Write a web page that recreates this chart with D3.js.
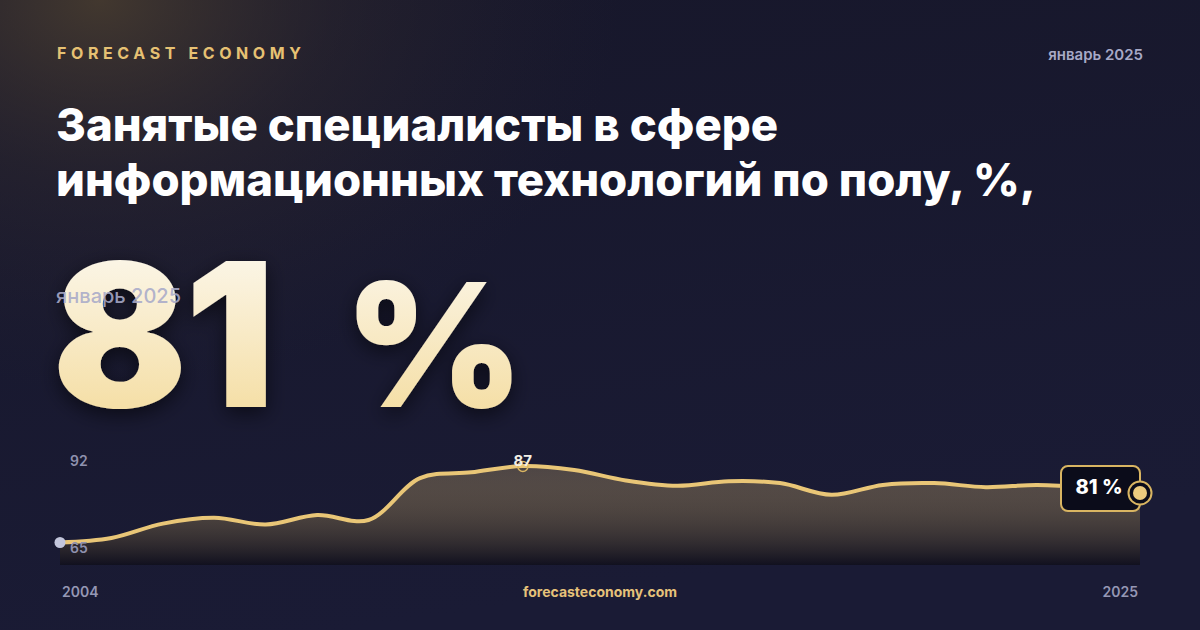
<!DOCTYPE html>
<html>
<head>
<meta charset="utf-8">
<script src="https://cdn.jsdelivr.net/npm/d3@7"></script>
<style>
  html, body { margin: 0; padding: 0; background: #15162b; }
  svg { display: block; font-family: Inter, "Noto Sans", sans-serif; }
</style>
</head>
<body>
<script>
var width = 1200, height = 630;

// data (share, %)
var years = [2004, 2005, 2006, 2007, 2008, 2009, 2010, 2011, 2012, 2013, 2014,
             2015, 2016, 2017, 2018, 2019, 2020, 2021, 2022, 2023, 2024, 2025];
var values = [70, 71, 74.2, 75.5, 74, 76.1, 75, 84.3, 85.6, 87, 86.1,
              83.8, 82.6, 83.6, 83.2, 80.6, 82.8, 83.2, 82.3, 82.8, 82.2, 81];
var yTicks = [92, 65];
var titleLines = ["Занятые специалисты в сфере", "информационных технологий по полу, %,"];
var periodLabel = "январь 2025";

var data = years.map(function(y, i) { return {year: y, value: values[i]}; });
var last = data[data.length - 1];
var peak = data.reduce(function(a, b) { return b.value > a.value ? b : a; });

var svg = d3.select("body").append("svg")
    .attr("width", width)
    .attr("height", height);

var defs = svg.append("defs");

var bg = defs.append("linearGradient").attr("id", "bg")
    .attr("x1", 0).attr("y1", 0).attr("x2", 0.3).attr("y2", 1);
bg.append("stop").attr("offset", 0).attr("stop-color", "#17172a");
bg.append("stop").attr("offset", 1).attr("stop-color", "#1a1b35");

var glow = defs.append("radialGradient").attr("id", "glow")
    .attr("gradientUnits", "userSpaceOnUse")
    .attr("cx", 100).attr("cy", 0).attr("r", 520)
    .attr("gradientTransform", "translate(100,0) scale(1,0.75) translate(-100,0)");
glow.append("stop").attr("offset", 0).attr("stop-color", "#4d4030").attr("stop-opacity", 0.8);
glow.append("stop").attr("offset", 0.45).attr("stop-color", "#3a3130").attr("stop-opacity", 0.35);
glow.append("stop").attr("offset", 1).attr("stop-color", "#2a2530").attr("stop-opacity", 0);

var big = defs.append("linearGradient").attr("id", "big")
    .attr("x1", 0).attr("y1", 0).attr("x2", 0).attr("y2", 1);
big.append("stop").attr("offset", 0).attr("stop-color", "#fdfcf9");
big.append("stop").attr("offset", 1).attr("stop-color", "#f3d893");

var areaGrad = defs.append("linearGradient").attr("id", "areaGrad")
    .attr("x1", 0).attr("y1", 0).attr("x2", 0).attr("y2", 1);
areaGrad.append("stop").attr("offset", 0).attr("stop-color", "#e8c57a").attr("stop-opacity", 0.25);
areaGrad.append("stop").attr("offset", 1).attr("stop-color", "#0e0d18").attr("stop-opacity", 0.75);

var shadow = defs.append("filter").attr("id", "shadow")
    .attr("x", "-20%").attr("y", "-20%").attr("width", "140%").attr("height", "140%");
shadow.append("feDropShadow").attr("dx", 0).attr("dy", 6).attr("stdDeviation", 10)
    .attr("flood-color", "#000").attr("flood-opacity", 0.55);

svg.append("rect").attr("width", width).attr("height", height).attr("fill", "url(#bg)");
svg.append("rect").attr("width", width).attr("height", height).attr("fill", "url(#glow)");

// header
svg.append("text")
    .attr("x", 57).attr("y", 59)
    .attr("fill", "#e6c173")
    .attr("font-size", 16).attr("font-weight", 700)
    .attr("letter-spacing", 4.6)
    .text("FORECAST ECONOMY");

svg.append("text")
    .attr("x", 1143).attr("y", 60)
    .attr("text-anchor", "end")
    .attr("fill", "#a7a9c6")
    .attr("font-size", 15).attr("font-weight", 600)
    .text(periodLabel);

// title
svg.selectAll(".title")
    .data(titleLines)
  .enter().append("text")
    .attr("class", "title")
    .attr("x", 56)
    .attr("y", function(d, i) { return 141 + i * 55; })
    .attr("fill", "#ffffff")
    .attr("font-size", 45.5).attr("font-weight", 800)
    .text(function(d) { return d; });

// big number
var bigText = svg.append("text")
    .attr("x", 52).attr("y", 407)
    .attr("fill", "url(#big)")
    .attr("filter", "url(#shadow)")
    .attr("font-size", 200).attr("font-weight", 900)
    .attr("letter-spacing", -3);
bigText.append("tspan").text(d3.format(".0f")(last.value));
bigText.append("tspan").attr("dx", 72).attr("font-size", 172).text("%");

svg.append("text")
    .attr("x", 56).attr("y", 303)
    .attr("fill", "#a9abc9").attr("fill-opacity", 0.9)
    .attr("font-size", 20).attr("font-weight", 500)
    .text(periodLabel);

// chart
var x = d3.scaleLinear()
    .domain(d3.extent(years))
    .range([60, 1140]);

var y = d3.scaleLinear()
    .domain([yTicks[1], yTicks[0]])
    .range([565, 443.5]);

var curve = d3.curveCatmullRom.alpha(0.5);

var area = d3.area()
    .x(function(d) { return x(d.year); })
    .y0(y(yTicks[1]))
    .y1(function(d) { return y(d.value); })
    .curve(curve);

var line = d3.line()
    .x(function(d) { return x(d.year); })
    .y(function(d) { return y(d.value); })
    .curve(curve);

svg.append("path")
    .datum(data)
    .attr("d", area)
    .attr("fill", "url(#areaGrad)");

svg.append("path")
    .datum(data)
    .attr("d", line)
    .attr("fill", "none")
    .attr("stroke", "#e9c677")
    .attr("stroke-width", 4)
    .attr("stroke-linejoin", "round");

// y labels
svg.selectAll(".ytick")
    .data(yTicks)
  .enter().append("text")
    .attr("class", "ytick")
    .attr("x", 70)
    .attr("y", function(d, i) { return i === 0 ? y(d) + 22.5 : y(d) - 12; })
    .attr("fill", "#8f91ae")
    .attr("font-size", 14).attr("font-weight", 600)
    .text(function(d) { return d; });

// x labels
svg.append("text")
    .attr("x", x(years[0]) + 2).attr("y", 597)
    .attr("fill", "#9597b4")
    .attr("font-size", 14).attr("font-weight", 600)
    .text(years[0]);

svg.append("text")
    .attr("x", x(years[years.length - 1]) - 2).attr("y", 597)
    .attr("text-anchor", "end")
    .attr("fill", "#9597b4")
    .attr("font-size", 14).attr("font-weight", 600)
    .text(years[years.length - 1]);

svg.append("text")
    .attr("x", 600).attr("y", 597)
    .attr("text-anchor", "middle")
    .attr("fill", "#e6c27a")
    .attr("font-size", 14).attr("font-weight", 700)
    .text("forecasteconomy.com");

// start dot
svg.append("circle")
    .attr("cx", x(data[0].year)).attr("cy", y(data[0].value))
    .attr("r", 5.5)
    .attr("fill", "#c3c6dc");

// peak marker
svg.append("circle")
    .attr("cx", x(peak.year)).attr("cy", y(peak.value) + 0.5)
    .attr("r", 5)
    .attr("fill", "none")
    .attr("stroke", "#d9b562")
    .attr("stroke-width", 1.5);

svg.append("text")
    .attr("x", x(peak.year)).attr("y", y(peak.value) - 0.5)
    .attr("text-anchor", "middle")
    .attr("fill", "#f3efe6")
    .attr("font-size", 15).attr("font-weight", 700)
    .text(d3.format(".0f")(peak.value));

// last value badge
var lx = x(last.year), ly = y(last.value);

svg.append("rect")
    .attr("x", lx - 79).attr("y", ly - 27)
    .attr("width", 79).attr("height", 45)
    .attr("rx", 7)
    .attr("fill", "#0b0c1a")
    .attr("stroke", "#d9b562")
    .attr("stroke-width", 2);

svg.append("text")
    .attr("x", lx - 41).attr("y", ly + 1)
    .attr("text-anchor", "middle")
    .attr("fill", "#ffffff")
    .attr("font-size", 20).attr("font-weight", 800)
    .text(d3.format(".0f")(last.value) + " %");

svg.append("circle")
    .attr("cx", lx).attr("cy", ly)
    .attr("r", 11.5)
    .attr("fill", "#0b0c1a")
    .attr("stroke", "#d9b562")
    .attr("stroke-width", 2);

svg.append("circle")
    .attr("cx", lx).attr("cy", ly)
    .attr("r", 7)
    .attr("fill", "#eccb7e");
</script>
</body>
</html>
